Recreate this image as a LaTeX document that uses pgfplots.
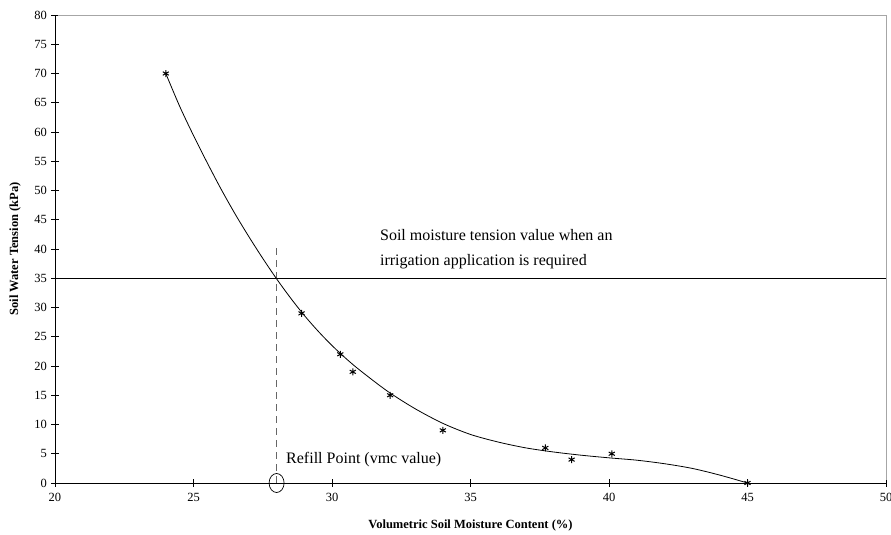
\documentclass[border=0pt]{standalone}
\usepackage{pgfplots}
\pgfplotsset{compat=1.18}
\usepackage{fontspec}
\setmainfont{Liberation Serif}
\begin{document}
\begin{tikzpicture}
\begin{axis}[
  at={(0,0)}, anchor=south west,
  scale only axis, width=831pt, height=468pt,
  xmin=20, xmax=50, ymin=0, ymax=80,
  xtick={20,25,...,50}, ytick={0,5,...,80},
  axis line style={draw=none},
  xtick pos=bottom, ytick pos=left,
  tick align=center, major tick length=7pt,
  tick style={draw=black, line width=0.9pt},
  /pgf/number format/assume math mode=true,
  ticklabel style={font=\fontsize{12.5}{14}\selectfont},
  xticklabel style={yshift=-3pt},
  yticklabel style={xshift=-1pt},
  xlabel={\textbf{Volumetric Soil Moisture Content (\%)}},
  ylabel={\textbf{Soil Water Tension (kPa)}},
  label style={font=\fontsize{12.5}{14}\selectfont},
  xlabel style={at={(axis description cs:0.5,-0.0912)}, anchor=center},
  ylabel style={at={(axis description cs:-0.048,0.5)}, anchor=center},
  clip=false,
]
\draw[gray!70, line width=0.6pt] (rel axis cs:0,1) -- (rel axis cs:1,1) -- (rel axis cs:1,0);
\draw[black, line width=0.9pt] (rel axis cs:0,1) -- (rel axis cs:0,0) -- (rel axis cs:1,0);
\draw[black, line width=0.9pt] \foreach \t in {0,1,...,6} {(rel axis cs:\t/6,0) ++(0pt,-3.5pt) -- ++(0pt,7pt)};
\draw[black, line width=0.9pt] \foreach \t in {0,1,...,16} {(rel axis cs:0,\t/16) ++(-3.5pt,0pt) -- ++(7pt,0pt)};
% threshold line
\addplot[black, line width=0.7pt, mark=none] coordinates {(20,35) (50,35)};
% refill dashed line
\addplot[gray!80!black, line width=0.9pt, dash pattern=on 7pt off 5pt, mark=none] coordinates {(28,0) (28,41)};
% fitted curve
\addplot[black, line width=0.8pt, mark=none, smooth, tension=0.5] coordinates {
(24,70) (24.5,64.4) (25,59.4) (25.5,54.7) (26,50.2) (26.5,46) (27,42.1) (27.5,38.4) (28,34.9)
(28.5,31.65) (29,28.65) (29.5,25.95) (30,23.5) (30.5,21.3) (31,19.3) (32,15.7) (33,12.7)
(34,10.2) (35,8.3) (36,7.0) (37,6.0) (38,5.3) (39,4.75) (40,4.3) (41,3.9) (42,3.3)
(43,2.5) (44,1.35) (45,0)};
% observations
\addplot[only marks, mark=asterisk, mark size=3.5pt, mark options={black, line width=1pt}] coordinates {
(24,70) (28.9,29) (30.3,22) (30.75,19) (32.1,15) (34,9) (37.7,6) (38.65,4) (40.1,5) (45,0)};
% circle at refill point
\draw[black, line width=0.7pt] (axis cs:28,0) ellipse [x radius=7.5pt, y radius=9.5pt];
\node[anchor=west, align=left, font=\fontsize{16}{25}\selectfont, inner sep=0pt] at (axis cs:31.73,39.9)
  {Soil moisture tension value when an\\irrigation application is required};
\node[anchor=west, font=\fontsize{16}{19}\selectfont, inner sep=0pt] at (axis cs:28.34,4.05) {Refill Point (vmc value)};
\end{axis}
\pgfresetboundingbox
\path[use as bounding box] (-55pt,-52pt) rectangle (836pt,483pt);
\end{tikzpicture}
\end{document}
